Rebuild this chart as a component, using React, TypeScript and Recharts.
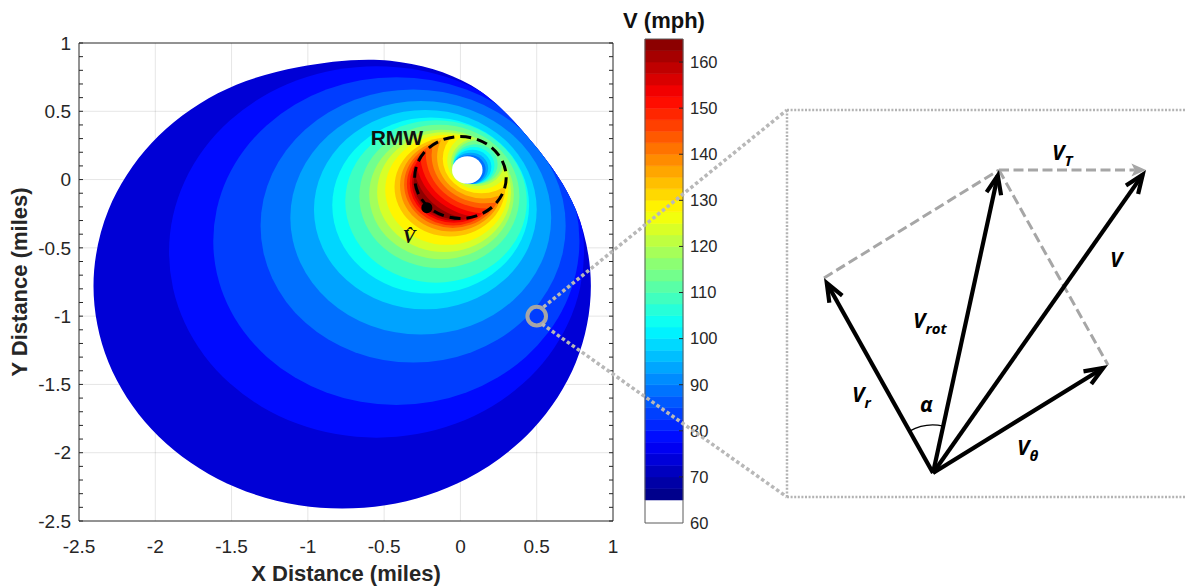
import React from 'react';
import {
  Bar,
  BarChart,
  ReferenceLine,
  Scatter,
  ScatterChart,
  XAxis,
  YAxis,
  ZAxis,
} from 'recharts';

const FONT = '"Liberation Sans", Arial, Helvetica, sans-serif';
const SERIF = '"Liberation Serif", "Times New Roman", serif';
const DIAG_FONT = '"Open Sans", "DejaVu Sans", sans-serif';
const INK = '#262626';

const PAGE_W = 1186;
const PAGE_H = 588;

// ---- main contour panel ----
const MAIN_W = 630;
const PLOT = { left: 79, top: 43, width: 534, height: 478 };
const Y_AXIS_W = 60;
const X_AXIS_H = 62;
const SPAN = 3.5;

const X_DOMAIN: [number, number] = [-2.5, 1];
const Y_DOMAIN: [number, number] = [-2.5, 1];
const MAJOR_TICKS = [-2.5, -2, -1.5, -1, -0.5, 0, 0.5, 1];
const GRID_TICKS = [-2, -1.5, -1, -0.5, 0, 0.5];
const MINOR_TICKS = [
  -2.5, -2.4, -2.3, -2.2, -2.1, -2, -1.9, -1.8, -1.7, -1.6, -1.5, -1.4, -1.3, -1.2, -1.1, -1,
  -0.9, -0.8, -0.7, -0.6, -0.5, -0.4, -0.3, -0.2, -0.1, 0, 0.1, 0.2, 0.3, 0.4, 0.5, 0.6, 0.7,
  0.8, 0.9, 1,
];

// edge of the computed field (lowest band, 70 mph)
const EDGE_LEVEL = 70;
const EDGE_X = [0.855, 0.757, 0.474, 0.07, -0.46, -1.058, -1.59, -2.024, -2.307, -2.405, -2.307, -2.024, -1.59, -1.058, -0.492, 0.04, 0.474, 0.757];
const EDGE_Y = [-0.78, -0.223, 0.268, 0.69, 0.87, 0.825, 0.632, 0.268, -0.223, -0.78, -1.337, -1.828, -2.192, -2.385, -2.385, -2.192, -1.828, -1.337];

// contour levels (mph); outer side of each contour: V >= level
const LEVELS = [75, 80, 85, 90, 95, 100, 105, 110, 115, 120, 125, 130, 135, 140, 145, 150, 155, 160];
const OUTER_X = [-0.55, -0.42, -0.31, -0.26, -0.23, -0.195, -0.16, -0.138, -0.124, -0.107, -0.09, -0.069, -0.059, -0.051, -0.048, -0.043, -0.04, -0.035];
const OUTER_Y = [-0.53, -0.45, -0.34, -0.28, -0.22, -0.19, -0.16, -0.123, -0.109, -0.092, -0.075, -0.054, -0.044, -0.036, -0.033, -0.028, -0.025, -0.019];
const OUTER_R = [1.36, 1.2, 1.0, 0.855, 0.73, 0.645, 0.595, 0.525, 0.474, 0.439, 0.403, 0.363, 0.337, 0.318, 0.303, 0.289, 0.278, 0.271];

// eye side of each contour inside the RMW: V < level
const INNER_LEVELS = [160, 155, 150, 145, 140, 135, 130, 125, 120, 115, 110, 105, 100, 95, 90];
const INNER_X = [0.118, 0.165, 0.177, 0.174, 0.165, 0.15, 0.137, 0.123, 0.113, 0.113, 0.099, 0.088, 0.078, 0.067, 0.06];
const INNER_Y = [0.133, 0.18, 0.192, 0.189, 0.18, 0.165, 0.152, 0.138, 0.128, 0.128, 0.114, 0.103, 0.093, 0.082, 0.075];
const INNER_R = [0.427, 0.459, 0.441, 0.401, 0.354, 0.303, 0.253, 0.21, 0.175, 0.16, 0.145, 0.135, 0.125, 0.115, 0.105];

const EYE = { x: 0.045, y: 0.07, r: 0.1 };
const RMW = { x: 0, y: 0.015, r: 0.3 };
const PEAK = { x: -0.22, y: -0.206 };
const ZOOM_SPOT = { x: 0.5, y: -1 };
const MAIN_LABELS = [
  { x: -0.416, y: 0.253, text: 'RMW', kind: 'rmw' },
  { x: -0.337, y: -0.464, text: 'V\u0302', kind: 'vhat' },
];

// ---- colour bar ----
const CLIM: [number, number] = [65, 165];
const CB_DOMAIN: [number, number] = [60, 165];
const CB_TICKS = [60, 70, 80, 90, 100, 110, 120, 130, 140, 150, 160];
const CB_STEPS = [
  65, 67.5, 70, 72.5, 75, 77.5, 80, 82.5, 85, 87.5, 90, 92.5, 95, 97.5, 100, 102.5, 105, 107.5,
  110, 112.5, 115, 117.5, 120, 122.5, 125, 127.5, 130, 132.5, 135, 137.5, 140, 142.5, 145,
  147.5, 150, 152.5, 155, 157.5, 160, 162.5,
];
const CB_STEP = 2.5;
const CB = { left: 600, width: 130, barLeft: 45, barWidth: 38, top: 39, bottom: 523, axisW: 40 };
const FRAME = '#5a5a5a';

// ---- vector diagram (units: 1 = 100 px) ----
const DIAG = { left: 533, width: 653 };
const DIAG_X: [number, number] = [-4, 2.53];
const DIAG_Y: [number, number] = [-1.15, 4.73];
const VEC_R = [-1.09, 1.95];
const VEC_THETA = [1.75, 1.08];
const VEC_T = [1.47, 0];
const VEC_ROT = [VEC_R[0] + VEC_THETA[0], VEC_R[1] + VEC_THETA[1]];
const VEC_V = [VEC_ROT[0] + VEC_T[0], VEC_ROT[1] + VEC_T[1]];
const BOX = { left: -1.46, right: 2.53, top: 3.63, bottom: -0.24 };
const ZOOM_FROM_TOP = [-3.895, 1.66];
const ZOOM_FROM_BOTTOM = [-3.91, 1.49];
const VEC_LABELS = [
  { x: 1.19, y: 3.13, main: 'V', sub: 'T' },
  { x: 1.77, y: 2.06, main: 'V', sub: '' },
  { x: -0.2, y: 1.45, main: 'V', sub: 'rot' },
  { x: -0.81, y: 0.71, main: 'V', sub: 'r' },
  { x: -0.13, y: 0.61, main: '\u03b1', sub: '' },
  { x: 0.84, y: 0.18, main: 'V', sub: '\u03b8' },
];

const jet = (v: number): string => {
  const t = Math.min(1, Math.max(0, (v - CLIM[0]) / (CLIM[1] - CLIM[0])));
  const c = (a: number) => Math.round(255 * Math.min(1, Math.max(0, a)));
  const r = c(Math.min(4 * t - 1.5, 4.5 - 4 * t));
  const g = c(Math.min(4 * t - 0.5, 3.5 - 4 * t));
  const b = c(Math.min(4 * t + 0.5, 2.5 - 4 * t));
  return `rgb(${r},${g},${b})`;
};

const edgePoints = EDGE_X.map((x, i) => ({ x, y: EDGE_Y[i] }));
const outerDisks = LEVELS.map((lv, i) => ({
  x: OUTER_X[i],
  y: OUTER_Y[i],
  r: OUTER_R[i],
  color: jet(lv + 3.5),
  clipId: `vge-${lv}`,
  clipTo: 'field-edge',
}));
const innerDisks = INNER_LEVELS.map((lv, i) => ({
  x: INNER_X[i],
  y: INNER_Y[i],
  r: INNER_R[i],
  color: jet(lv - 1.5),
  clipTo: `vge-${lv - 5}`,
}));
const eyeDisk = [{ ...EYE, color: '#ffffff' }];
const rmwRing = [{ ...RMW, color: 'none', stroke: '#000', strokeWidth: 3, dash: '11 6' }];

const Y_PER_X = PLOT.height / PLOT.width;

// smooth closed outline through the edge points (pixel coords from the scales)
const EdgeOutline = (p: any) => {
  const pts = p.points as { x: number; y: number }[];
  if (!pts || pts.length < 3) return <g />;
  const n = pts.length;
  let d = `M${pts[0].x},${pts[0].y}`;
  for (let i = 0; i < n; i++) {
    const p0 = pts[(i - 1 + n) % n];
    const p1 = pts[i];
    const p2 = pts[(i + 1) % n];
    const p3 = pts[(i + 2) % n];
    d += ` C${p1.x + (p2.x - p0.x) / 6},${p1.y + (p2.y - p0.y) / 6} ${p2.x - (p3.x - p1.x) / 6},${p2.y - (p3.y - p1.y) / 6} ${p2.x},${p2.y}`;
  }
  d += 'Z';
  return (
    <g>
      <clipPath id='field-edge'>
        <path d={d} />
      </clipPath>
      <path d={d} fill={jet(EDGE_LEVEL + 3.5)} stroke='none' />
    </g>
  );
};
const NoSymbol = () => <g />;

const Disk = (p: any) => {
  const d = p.payload;
  const rx = p.size;
  const ry = rx * Y_PER_X;
  return (
    <g>
      {d.clipId ? (
        <clipPath id={d.clipId}>
          <ellipse cx={p.cx} cy={p.cy} rx={rx} ry={ry} />
        </clipPath>
      ) : null}
      <ellipse
        cx={p.cx}
        cy={p.cy}
        rx={rx}
        ry={ry}
        fill={d.color}
        stroke={d.stroke || 'none'}
        strokeWidth={d.strokeWidth}
        strokeDasharray={d.dash}
        clipPath={d.clipTo ? `url(#${d.clipTo})` : undefined}
      />
    </g>
  );
};

const PeakDot = (p: any) => <circle cx={p.cx} cy={p.cy} r={5.5} fill='#000' />;
const SpotRing = (p: any) => (
  <circle cx={p.cx} cy={p.cy} r={9.3} fill='none' stroke='#a6a6a6' strokeWidth={4} />
);

const MainText = (p: any) => {
  const d = p.payload;
  if (d.kind === 'rmw') {
    return (
      <text x={p.cx} y={p.cy} textAnchor='middle' fontFamily={FONT} fontWeight='bold' fontSize={21} fill='#111'>
        {d.text}
      </text>
    );
  }
  return (
    <text x={p.cx} y={p.cy} textAnchor='middle' fontFamily={SERIF} fontWeight='bold' fontStyle='italic' fontSize={19} fill='#111'>
      {d.text}
    </text>
  );
};

const tickFont = { fontSize: 19, fill: INK, fontFamily: FONT };
const noLabel = () => '';

const MainPanel = () => (
  <ScatterChart
    width={MAIN_W}
    height={PAGE_H}
    margin={{
      top: PLOT.top,
      right: MAIN_W - PLOT.left - PLOT.width,
      bottom: PAGE_H - PLOT.top - PLOT.height - X_AXIS_H,
      left: PLOT.left - Y_AXIS_W,
    }}
  >
    <ZAxis type='number' dataKey='r' domain={[0, SPAN]} range={[0, PLOT.width]} />
    <Scatter
      xAxisId='main'
      yAxisId='main'
      data={edgePoints}
      line={EdgeOutline}
      lineType='joint'
      shape={NoSymbol}
      isAnimationActive={false}
    />
    <Scatter xAxisId='main' yAxisId='main' data={outerDisks} shape={Disk} isAnimationActive={false} />
    <Scatter xAxisId='main' yAxisId='main' data={innerDisks} shape={Disk} isAnimationActive={false} />
    <Scatter xAxisId='main' yAxisId='main' data={eyeDisk} shape={Disk} isAnimationActive={false} />
    {GRID_TICKS.map((v) => (
      <ReferenceLine key={`gx${v}`} xAxisId='main' yAxisId='main' x={v} stroke='#000' strokeOpacity={0.1} />
    ))}
    {GRID_TICKS.map((v) => (
      <ReferenceLine key={`gy${v}`} xAxisId='main' yAxisId='main' y={v} stroke='#000' strokeOpacity={0.1} />
    ))}
    <Scatter xAxisId='main' yAxisId='main' data={rmwRing} shape={Disk} isAnimationActive={false} />
    <Scatter xAxisId='main' yAxisId='main' data={[PEAK]} shape={PeakDot} isAnimationActive={false} />
    <Scatter xAxisId='main' yAxisId='main' data={[ZOOM_SPOT]} shape={SpotRing} isAnimationActive={false} />
    <Scatter xAxisId='main' yAxisId='main' data={MAIN_LABELS} shape={MainText} isAnimationActive={false} />

    <XAxis
      xAxisId='main'
      type='number'
      dataKey='x'
      domain={X_DOMAIN}
      allowDataOverflow
      ticks={MAJOR_TICKS}
      interval={0}
      height={X_AXIS_H}
      tickLine={false}
      tickSize={0}
      tickMargin={19}
      axisLine={{ stroke: INK }}
      tick={tickFont}
      label={{
        value: 'X Distance (miles)',
        position: 'insideBottom',
        offset: 2,
        fill: INK,
        fontSize: 22,
        fontWeight: 'bold',
        fontFamily: FONT,
      }}
    />
    <YAxis
      yAxisId='main'
      type='number'
      dataKey='y'
      domain={Y_DOMAIN}
      allowDataOverflow
      ticks={MAJOR_TICKS}
      interval={0}
      width={Y_AXIS_W}
      tickLine={false}
      tickSize={0}
      tickMargin={8}
      axisLine={{ stroke: INK }}
      tick={tickFont}
      label={{
        value: 'Y Distance (miles)',
        angle: -90,
        position: 'insideLeft',
        offset: 0,
        fill: INK,
        fontSize: 22,
        fontWeight: 'bold',
        fontFamily: FONT,
        style: { textAnchor: 'middle' },
      }}
    />
    <XAxis xAxisId='minorBottom' orientation='bottom' mirror type='number' domain={X_DOMAIN} allowDataOverflow ticks={MINOR_TICKS} interval={0} tickFormatter={noLabel} tickSize={4} axisLine={false} tickLine={{ stroke: INK }} />
    <XAxis xAxisId='minorTop' orientation='top' mirror type='number' domain={X_DOMAIN} allowDataOverflow ticks={MINOR_TICKS} interval={0} tickFormatter={noLabel} tickSize={4} axisLine={{ stroke: INK }} tickLine={{ stroke: INK }} />
    <YAxis yAxisId='minorLeft' orientation='left' mirror type='number' domain={Y_DOMAIN} allowDataOverflow ticks={MINOR_TICKS} interval={0} tickFormatter={noLabel} tickSize={4} axisLine={false} tickLine={{ stroke: INK }} />
    <YAxis yAxisId='minorRight' orientation='right' mirror type='number' domain={Y_DOMAIN} allowDataOverflow ticks={MINOR_TICKS} interval={0} tickFormatter={noLabel} tickSize={4} axisLine={{ stroke: INK }} tickLine={{ stroke: INK }} />
  </ScatterChart>
);

// one stacked column: white floor below 65 mph, then the colour steps
const cbRow: Record<string, number | string>[] = [
  CB_STEPS.reduce<Record<string, number | string>>(
    (row, _v, i) => ({ ...row, [`s${i}`]: CB_STEP }),
    { name: 'V', floor: CB_STEPS[0] },
  ),
];

const ColorBar = () => (
  <BarChart
    width={CB.width}
    height={PAGE_H}
    data={cbRow}
    barCategoryGap={0}
    barGap={0}
    margin={{
      top: CB.top,
      bottom: PAGE_H - CB.bottom,
      left: CB.barLeft,
      right: CB.width - CB.barLeft - CB.barWidth - CB.axisW,
    }}
  >
    <XAxis dataKey='name' hide />
    <YAxis
      orientation='right'
      type='number'
      domain={CB_DOMAIN}
      allowDataOverflow
      ticks={CB_TICKS}
      interval={0}
      width={CB.axisW}
      tickLine={false}
      tickSize={0}
      tickMargin={7}
      axisLine={false}
      tick={{ fontSize: 16.5, fill: INK, fontFamily: FONT }}
    />
    <Bar dataKey='floor' stackId='cb' fill='#ffffff' isAnimationActive={false} />
    {CB_STEPS.map((v, i) => (
      <Bar
        key={v}
        dataKey={`s${i}`}
        stackId='cb'
        fill={jet(v + CB_STEP / 2)}
        stroke={jet(v + CB_STEP / 2)}
        strokeWidth={0.6}
        isAnimationActive={false}
      />
    ))}
    <YAxis yAxisId='cbTicks' orientation='right' mirror type='number' domain={CB_DOMAIN} allowDataOverflow ticks={CB_TICKS.slice(1)} interval={0} tickFormatter={noLabel} tickSize={4} axisLine={{ stroke: FRAME }} tickLine={{ stroke: INK }} />
    <YAxis yAxisId='cbFrameL' orientation='left' mirror type='number' domain={CB_DOMAIN} allowDataOverflow ticks={CB_TICKS} interval={0} tickFormatter={noLabel} tickLine={false} axisLine={{ stroke: FRAME }} />
    <XAxis xAxisId='cbFrameT' orientation='top' mirror dataKey='name' tickFormatter={noLabel} tickLine={false} axisLine={{ stroke: FRAME }} />
    <XAxis xAxisId='cbFrameB' orientation='bottom' mirror dataKey='name' tickFormatter={noLabel} tickLine={false} axisLine={{ stroke: FRAME }} />
    <text
      x={CB.barLeft + CB.barWidth / 2}
      y={28}
      textAnchor='middle'
      fontFamily={FONT}
      fontWeight='bold'
      fontSize={22}
      fill='#111'
    >
      V (mph)
    </text>
  </BarChart>
);

type ArrowOpts = {
  color: string;
  width: number;
  dash?: string;
  head: 'open' | 'solid' | 'none';
  headLen?: number;
  spread?: number;
};

const makeArrow = (o: ArrowOpts) => (p: any) => {
  const { x1, y1, x2, y2 } = p;
  const a = Math.atan2(y2 - y1, x2 - x1);
  const len = o.headLen ?? 20;
  const s = o.spread ?? 0.4;
  const pt = (ang: number, l: number, bx = x2, by = y2) => [bx - l * Math.cos(a + ang), by - l * Math.sin(a + ang)];
  if (o.head === 'none') {
    return <line x1={x1} y1={y1} x2={x2} y2={y2} stroke={o.color} strokeWidth={o.width} strokeDasharray={o.dash} />;
  }
  if (o.head === 'solid') {
    const [lx, ly] = pt(s, len);
    const [rx, ry] = pt(-s, len);
    const [nx, ny] = pt(0, len * 0.7);
    return (
      <g>
        <line x1={x1} y1={y1} x2={nx} y2={ny} stroke={o.color} strokeWidth={o.width} strokeDasharray={o.dash} />
        <polygon points={`${x2},${y2} ${lx},${ly} ${nx},${ny} ${rx},${ry}`} fill={o.color} />
      </g>
    );
  }
  const inset = o.width / 2 / Math.sin(s);
  const [tx, ty] = pt(0, inset);
  const [lx, ly] = pt(s, len, tx, ty);
  const [rx, ry] = pt(-s, len, tx, ty);
  return (
    <g>
      <line x1={x1} y1={y1} x2={tx} y2={ty} stroke={o.color} strokeWidth={o.width} />
      <polyline
        points={`${lx},${ly} ${tx},${ty} ${rx},${ry}`}
        fill='none'
        stroke={o.color}
        strokeWidth={o.width}
        strokeLinejoin='miter'
        strokeMiterlimit={10}
      />
    </g>
  );
};

const blackArrow = makeArrow({ color: '#000', width: 4.2, head: 'open', headLen: 20, spread: 0.38 });
const grayDash = makeArrow({ color: '#a6a6a6', width: 3, head: 'none', dash: '10 4.5' });
const grayArrow = makeArrow({ color: '#a6a6a6', width: 3, head: 'solid', dash: '10 4.5', headLen: 16, spread: 0.42 });
const boxDots = makeArrow({ color: '#b3b3b3', width: 2.5, head: 'none', dash: '2 1.6' });
const zoomDots = makeArrow({ color: '#b8b8b8', width: 3.5, head: 'none', dash: '3.5 2.6' });

const seg = (a: number[], b: number[]) => [
  { x: a[0], y: a[1] },
  { x: b[0], y: b[1] },
];

const ORIGIN = [0, 0];

const VecLabel = (p: any) => {
  const d = p.payload;
  return (
    <text x={p.cx} y={p.cy} fontFamily={DIAG_FONT} fontWeight='bold' fontStyle='italic' fontSize={21} fill='#000'>
      {d.main}
      {d.sub ? (
        <tspan fontSize={15} dy={6}>
          {d.sub}
        </tspan>
      ) : null}
    </text>
  );
};

const AlphaArc = (p: any) => {
  const r = 48;
  const a1 = Math.atan2(VEC_R[1], VEC_R[0]);
  const a2 = Math.atan2(VEC_ROT[1], VEC_ROT[0]);
  const sx = p.cx + r * Math.cos(a1);
  const sy = p.cy - r * Math.sin(a1);
  const ex = p.cx + r * Math.cos(a2);
  const ey = p.cy - r * Math.sin(a2);
  return <path d={`M${sx},${sy} A${r},${r} 0 0 1 ${ex},${ey}`} fill='none' stroke='#000' strokeWidth={1.3} />;
};

const VectorPanel = () => (
  <ScatterChart width={DIAG.width} height={PAGE_H} margin={{ top: 0, right: 0, bottom: 0, left: 0 }}>
    <XAxis type='number' dataKey='x' domain={DIAG_X} allowDataOverflow hide />
    <YAxis type='number' dataKey='y' domain={DIAG_Y} allowDataOverflow hide />
    <ReferenceLine ifOverflow='visible' segment={seg(ZOOM_FROM_TOP, [BOX.left, BOX.top])} shape={zoomDots} />
    <ReferenceLine ifOverflow='visible' segment={seg(ZOOM_FROM_BOTTOM, [BOX.left, BOX.bottom])} shape={zoomDots} />
    <ReferenceLine ifOverflow='visible' segment={seg([BOX.left, BOX.bottom], [BOX.left, BOX.top])} shape={boxDots} />
    <ReferenceLine ifOverflow='visible' segment={seg([BOX.left, BOX.top], [BOX.right, BOX.top])} shape={boxDots} />
    <ReferenceLine ifOverflow='visible' segment={seg([BOX.left, BOX.bottom], [BOX.right, BOX.bottom])} shape={boxDots} />
    <ReferenceLine ifOverflow='visible' segment={seg(VEC_R, VEC_ROT)} shape={grayDash} />
    <ReferenceLine ifOverflow='visible' segment={seg(VEC_ROT, VEC_THETA)} shape={grayDash} />
    <ReferenceLine ifOverflow='visible' segment={seg(VEC_ROT, VEC_V)} shape={grayArrow} />
    <ReferenceLine ifOverflow='visible' segment={seg(ORIGIN, VEC_R)} shape={blackArrow} />
    <ReferenceLine ifOverflow='visible' segment={seg(ORIGIN, VEC_ROT)} shape={blackArrow} />
    <ReferenceLine ifOverflow='visible' segment={seg(ORIGIN, VEC_V)} shape={blackArrow} />
    <ReferenceLine ifOverflow='visible' segment={seg(ORIGIN, VEC_THETA)} shape={blackArrow} />
    <Scatter data={[{ x: ORIGIN[0], y: ORIGIN[1] }]} shape={AlphaArc} isAnimationActive={false} />
    <Scatter data={VEC_LABELS} shape={VecLabel} isAnimationActive={false} />
  </ScatterChart>
);

export default function App() {
  return (
    <div
      style={{
        position: 'fixed',
        left: 0,
        top: 0,
        width: PAGE_W,
        height: PAGE_H,
        background: '#fff',
        overflow: 'hidden',
      }}
    >
      <div style={{ position: 'absolute', left: 0, top: 0 }}>
        <MainPanel />
      </div>
      <div style={{ position: 'absolute', left: CB.left, top: 0 }}>
        <ColorBar />
      </div>
      <div style={{ position: 'absolute', left: DIAG.left, top: 0 }}>
        <VectorPanel />
      </div>
    </div>
  );
}
